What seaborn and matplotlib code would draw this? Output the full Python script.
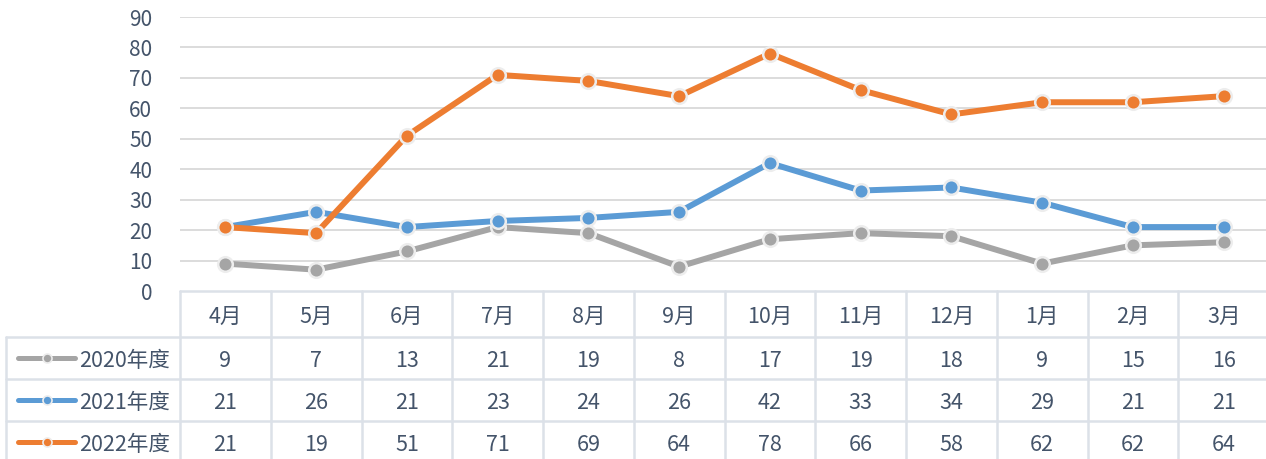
import numpy as np
import pandas as pd
import matplotlib
matplotlib.use("Agg")
import matplotlib.pyplot as plt
import seaborn as sns
from matplotlib.lines import Line2D

# --- dados ---
months = ["4月", "5月", "6月", "7月", "8月", "9月", "10月", "11月", "12月", "1月", "2月", "3月"]
series_names = ["2020年度", "2021年度", "2022年度"]
vals_2020 = [9, 7, 13, 21, 19, 8, 17, 19, 18, 9, 15, 16]
vals_2021 = [21, 26, 21, 23, 24, 26, 42, 33, 34, 29, 21, 21]
vals_2022 = [21, 19, 51, 71, 69, 64, 78, 66, 58, 62, 62, 64]
y_ticks = [0, 10, 20, 30, 40, 50, 60, 70, 80, 90]

colors = {"2020年度": "#A5A5A5", "2021年度": "#5B9BD5", "2022年度": "#ED7D31"}
TXT = "#44546A"
GRID = "#D9D9D9"
TLINE = "#DCE1E8"
FS = 15.5

sns.set_style("white")
plt.rcParams["font.family"] = ["Noto Sans CJK SC", "DejaVu Sans"]

all_vals = [vals_2020, vals_2021, vals_2022]
df = pd.DataFrame({
    "idx": np.tile(np.arange(len(months)), len(series_names)),
    "valor": np.concatenate(all_vals),
    "serie": np.repeat(series_names, len(months)),
})

W, H = 1266, 459
fig = plt.figure(figsize=(W / 100, H / 100), dpi=100)

# layout em pixels
x0, x1 = 180, 1269
ytop, ybot = 17, 291
col_w = (x1 - x0) / len(months)

ax = fig.add_axes([x0 / W, (H - ybot) / H, (x1 - x0) / W, (ybot - ytop) / H])
sns.lineplot(data=df, x="idx", y="valor", hue="serie", palette=colors, sort=False,
             marker="o", markersize=10.5, markeredgecolor="#EDEDED", markeredgewidth=1.8,
             linewidth=4.3, legend=False, ax=ax)
ax.set_xlim(-0.5, len(months) - 0.5)
ax.set_ylim(0, 90)
ax.set_yticks(y_ticks)
ax.set_yticklabels([str(v) for v in y_ticks], color=TXT, fontsize=15)
ax.tick_params(axis="y", length=0, pad=20)
ax.set_xticks([])
ax.set_xlabel("")
ax.set_ylabel("")
for v in y_ticks[1:]:
    ax.axhline(v, color=GRID, lw=1.3, zorder=0)
for s in ax.spines.values():
    s.set_visible(False)
ax.patch.set_alpha(0)

# --- tabela de dados ---
tab = fig.add_axes([0, 0, 1, 1])
tab.set_xlim(0, W)
tab.set_ylim(H, 0)
tab.axis("off")
tab.patch.set_alpha(0)

row_lines = [291, 337, 379, 421, 462]
left = 6
off = 3  # ajuste vertical do texto
# linhas horizontais
tab.plot([x0, x1], [row_lines[0]] * 2, color=TLINE, lw=1.8)
for yl in row_lines[1:]:
    tab.plot([left, x1], [yl] * 2, color=TLINE, lw=1.8)
# linhas verticais
for i in range(len(months) + 1):
    xv = x0 + i * col_w
    tab.plot([xv, xv], [row_lines[0], H], color=TLINE, lw=1.8)
tab.plot([left, left], [row_lines[1], H], color=TLINE, lw=1.8)

# cabeçalho (meses)
hdr_y = (row_lines[0] + row_lines[1]) / 2 + off
for i, m in enumerate(months):
    tab.text(x0 + (i + 0.5) * col_w, hdr_y, m, ha="center", va="center", color=TXT, fontsize=FS)

# linhas de valores + legenda
for r, (name, vals) in enumerate(zip(series_names, all_vals)):
    yc = (row_lines[r + 1] + row_lines[r + 2]) / 2
    if r == len(series_names) - 1:
        yc = (row_lines[r + 1] + H) / 2 + 2
    for i, v in enumerate(vals):
        tab.text(x0 + (i + 0.5) * col_w, yc + off, str(v), ha="center", va="center",
                 color=TXT, fontsize=FS)
    tab.add_line(Line2D([18, 75], [yc, yc], color=colors[name], lw=3.6, solid_capstyle="round"))
    tab.add_line(Line2D([47], [yc], marker="o", markersize=6.5, color=colors[name],
                        markeredgecolor="#EDEDED", markeredgewidth=1.2))
    tab.text(79, yc + off, name, ha="left", va="center", color=TXT, fontsize=FS)

fig.savefig("out.png", dpi=100)
